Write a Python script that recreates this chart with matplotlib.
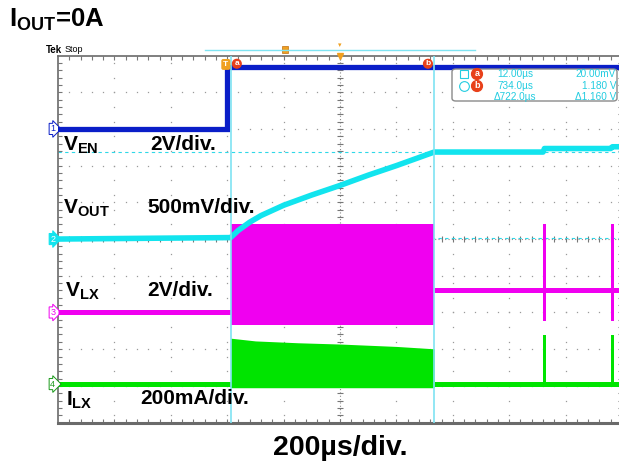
import numpy as np
import matplotlib.pyplot as plt
from matplotlib.patches import FancyBboxPatch, Rectangle
from matplotlib.lines import Line2D

plt.rcParams["font.family"] = ["Liberation Sans", "DejaVu Sans"]
plt.rcParams["mathtext.fontset"] = "custom"
plt.rcParams["mathtext.bf"] = "Liberation Sans:bold"
plt.rcParams["mathtext.rm"] = "Liberation Sans"

W, H = 619, 463

# scope settings: time in us, each channel drawn in divisions
T_MIN, T_MAX = -600, 1400
SCALE = {"en": 2.0, "out": 0.5, "lx": 2.0, "ilx": 200.0}   # V/div, V/div, V/div, mA/div
OFFSET = {"en": 3.0, "out": 0.0, "lx": -2.0, "ilx": -3.95}  # ground position (div)

COL_EN = "#0a1ec8"
COL_OUT = "#12e4ee"
COL_LX = "#f000f0"
COL_ILX = "#00e400"
COL_CUR = "#7fe3f2"

# ---- traces ----
t_en = [-600, 0, 0, 1400]
v_en = [0.0, 0.0, 3.4, 3.4]

t_out = [-600, 12, 40, 80, 120, 200, 300, 400, 500, 600, 734, 1120, 1125, 1360, 1366, 1400]
v_out = [0.0, 0.02, 0.12, 0.23, 0.32, 0.46, 0.60, 0.73, 0.87, 1.00, 1.185, 1.185, 1.233, 1.233, 1.257, 1.257]

# VLX: idle, switching band, then settled level with two short pulses
t_lx_idle = [-600, 12]
v_lx_idle = [0.0, 0.0]
t_lx_band = [12, 734]
lx_band_top = [4.8, 4.8]
lx_band_bot = [-0.7, -0.7]
t_lx_after = [734, 1400]
v_lx_after = [1.25, 1.25]
t_pulse = [1125, 1366]
lx_pulse_top = [4.8, 4.8]
lx_pulse_bot = [-0.45, -0.45]

# ILX (mA)
t_ilx_idle = [-600, 12]
i_ilx_idle = [0.0, 0.0]
t_ilx_band = [12, 100, 250, 400, 600, 734]
ilx_band_top = [250, 235, 225, 218, 205, 192]
ilx_band_bot = [-20, -20, -20, -20, -20, -20]
t_ilx_after = [734, 1400]
i_ilx_after = [0.0, 0.0]
ilx_pulse_top = [267, 267]

# cursors
cur_t = [12, 734]
cur_v = [0.02, 1.18]


def div(ch, vals):
    return np.asarray(vals, dtype=float) / SCALE[ch] + OFFSET[ch]


fig = plt.figure(figsize=(W / 100, H / 100), dpi=100)
left, right, top, bottom = 58, 622, 55.5, 422.6
ax = fig.add_axes([left / W, 1 - bottom / H, (right - left) / W, (bottom - top) / H])
ax.set_xlim(T_MIN, T_MAX)
ax.set_ylim(-5, 5)

# graticule
for xv in range(-400, 1400, 200):
    if xv == 400:
        continue
    ys = np.arange(-4.8, 5.0, 0.4)
    ax.plot([xv] * len(ys), ys, ls="none", marker="s", ms=0.9, mew=0, color="#9a9a9a", zorder=1)
for yv in range(-4, 5):
    if yv == 0:
        continue
    xs = np.arange(-560, 1400, 40)
    ax.plot(xs, [yv] * len(xs), ls="none", marker="s", ms=0.9, mew=0, color="#9a9a9a", zorder=1)
ax.axhline(0, color="#8a8a8a", lw=0.8, ls=(0, (1, 2)), zorder=1)
ax.axvline(400, color="#8a8a8a", lw=0.8, ls=(0, (1, 2)), zorder=1)
xs = np.arange(-560, 1400, 40)
ax.plot(xs, [0] * len(xs), ls="none", marker="|", ms=4, mew=0.8, color="#777777", zorder=1)
ys = np.arange(-4.8, 5.0, 0.2)
ax.plot([400] * len(ys), ys, ls="none", marker="_", ms=5, mew=0.8, color="#777777", zorder=1)

ax.set_xticks([])
ax.set_yticks([])
ax.set_xticks(np.arange(-560, 1400, 40), minor=True)
ax.set_yticks(np.arange(-4.8, 5.0, 0.2), minor=True)
ax.tick_params(which="minor", direction="in", length=3, width=0.8, color="#777777",
               top=True, bottom=True, left=True, right=True,
               labelbottom=False, labelleft=False)
for s in ax.spines.values():
    s.set_color("#6a6a6a")
    s.set_linewidth(1.2)
ax.spines["bottom"].set_linewidth(2.2)

# horizontal cursors (dashed, ch2 levels)
for v in cur_v:
    ax.axhline(div("out", v), color="#2fd8e8", lw=0.8, ls=(0, (3, 3)), zorder=2)

# ILX
ax.plot(t_ilx_idle, div("ilx", i_ilx_idle), color=COL_ILX, lw=3.6, solid_capstyle="butt", zorder=3)
ax.fill_between(t_ilx_band, div("ilx", ilx_band_bot), div("ilx", ilx_band_top), color=COL_ILX, lw=0, zorder=3)
ax.plot(t_ilx_after, div("ilx", i_ilx_after), color=COL_ILX, lw=3.6, solid_capstyle="butt", zorder=3)
for t, tp in zip(t_pulse, ilx_pulse_top):
    ax.fill_between([t - 6, t + 6], div("ilx", [0, 0]), div("ilx", [tp, tp]), color=COL_ILX, lw=0, zorder=3)

# VLX
ax.plot(t_lx_idle, div("lx", v_lx_idle), color=COL_LX, lw=3.6, solid_capstyle="butt", zorder=4)
ax.fill_between(t_lx_band, div("lx", lx_band_bot), div("lx", lx_band_top), color=COL_LX, lw=0, zorder=4)
ax.plot(t_lx_after, div("lx", v_lx_after), color=COL_LX, lw=3.6, solid_capstyle="butt", zorder=4)
for t, tp, bt in zip(t_pulse, lx_pulse_top, lx_pulse_bot):
    ax.fill_between([t - 6, t + 6], div("lx", [bt, bt]), div("lx", [tp, tp]), color=COL_LX, lw=0, zorder=4)

# VOUT
ax.plot(t_out, div("out", v_out), color=COL_OUT, lw=4.0, solid_joinstyle="round", zorder=5)

# VEN
ax.plot(t_en, div("en", v_en), color=COL_EN, lw=3.8, solid_joinstyle="miter", zorder=6)

# vertical cursors
for t in cur_t:
    ax.axvline(t, color=COL_CUR, lw=1.2, zorder=7)

# channel markers
for num, ch, col, filled in [("1", "en", COL_EN, False), ("2", "out", COL_OUT, True),
                             ("3", "lx", COL_LX, False), ("4", "ilx", "#1a9a1a", False)]:
    ax.annotate(num, xy=(0, OFFSET[ch]), xycoords=("axes fraction", "data"),
                xytext=(-2, 0), textcoords="offset points", ha="right", va="center",
                fontsize=6.5, color="white" if filled else col,
                bbox=dict(boxstyle="rarrow,pad=0.12", fc=col if filled else "white", ec=col, lw=0.7),
                annotation_clip=False)

# trigger / cursor tags on ch1
ven_hi = div("en", 3.4)
ax.annotate("T", xy=(0, ven_hi), xytext=(-1, 1.5), textcoords="offset points", ha="center", va="center",
            fontsize=6, fontweight="bold", color="white",
            bbox=dict(boxstyle="round,pad=0.15", fc="#f0a020", ec="#f0a020"), zorder=8)
for t, lab, dx in [(12, "a", 4.5), (734, "b", -4.5)]:
    ax.annotate(lab, xy=(t, ven_hi), xytext=(dx, 2), textcoords="offset points", ha="center", va="center",
                fontsize=6, fontweight="bold", color="white",
                bbox=dict(boxstyle="circle,pad=0.1", fc="#e8401a", ec="#e8401a"), zorder=8)
ax.plot([400], [5], marker="v", ms=4, color="#f0a020", clip_on=False, zorder=8)


def fx(px):
    return px / W


def fy(py):
    return 1 - py / H


# record bar above screen
fig.add_artist(Line2D([fx(205), fx(475)], [fy(50), fy(50)], color=COL_CUR, lw=1.0))
fig.add_artist(Rectangle((fx(282), fy(53)), 6 / W, 7 / H, fc="#f0a020", ec="#c07010", lw=0.5))
fig.text(fx(340), fy(46), "▾", color="#f0a020", fontsize=5, ha="center", va="center")

# readout box
fig.add_artist(FancyBboxPatch((fx(452), fy(101)), 165 / W, 32 / H,
                              boxstyle="round,pad=0,rounding_size=0.006",
                              fc="white", ec="#8a8a8a", lw=1.0, zorder=5))
cyan_t = "#22cce0"
rows = [(74, "12.00µs", "20.00mV"), (86, "734.0µs", "1.180 V"), (97, "Δ722.0µs", "Δ1.160 V")]
for py, a, b in rows:
    fig.text(fx(515), fy(py), a, color=cyan_t, fontsize=7.2, ha="center", va="center", zorder=6)
    fig.text(fx(616), fy(py), b, color=cyan_t, fontsize=7.2, ha="right", va="center", zorder=6)
fig.add_artist(Rectangle((fx(460), fy(78)), 8 / W, 8 / H, fc="none", ec=cyan_t, lw=0.8, zorder=6))
fig.add_artist(Line2D([fx(464)], [fy(86)], marker="o", ms=7, mfc="none", mec=cyan_t, mew=0.8, zorder=6))
for py, lab in [(74, "a"), (86, "b")]:
    fig.text(fx(477), fy(py), lab, fontsize=6.5, fontweight="bold", color="white", ha="center", va="center",
             bbox=dict(boxstyle="circle,pad=0.1", fc="#e8401a", ec="#e8401a"), zorder=7)

# texts
fig.text(fx(46), fy(50), "Tek", fontsize=7, fontweight="bold", ha="left", va="center")
fig.text(fx(65), fy(50), "Stop", fontsize=6.5, ha="left", va="center")
fig.text(fx(9), fy(20), r"$\mathbf{I_{OUT}}$=0A", fontsize=18.5, fontweight="bold", ha="left", va="center")

lab_kw = dict(fontsize=15, fontweight="bold", ha="left", va="center")
fig.text(fx(63), fy(145), r"$\mathbf{V_{EN}}$", **lab_kw)
fig.text(fx(150), fy(145), "2V/div.", **lab_kw)
fig.text(fx(63), fy(208), r"$\mathbf{V_{OUT}}$", **lab_kw)
fig.text(fx(147), fy(207), "500mV/div.", **lab_kw)
fig.text(fx(65), fy(291), r"$\mathbf{V_{LX}}$", **lab_kw)
fig.text(fx(147), fy(290), "2V/div.", **lab_kw)
fig.text(fx(66), fy(400), r"$\mathbf{I_{LX}}$", **lab_kw)
fig.text(fx(140), fy(399), "200mA/div.", **lab_kw)
fig.text(fx(340), fy(448), "200µs/div.", fontsize=20.5, fontweight="bold", ha="center", va="center")

fig.savefig("out.png", dpi=100)
